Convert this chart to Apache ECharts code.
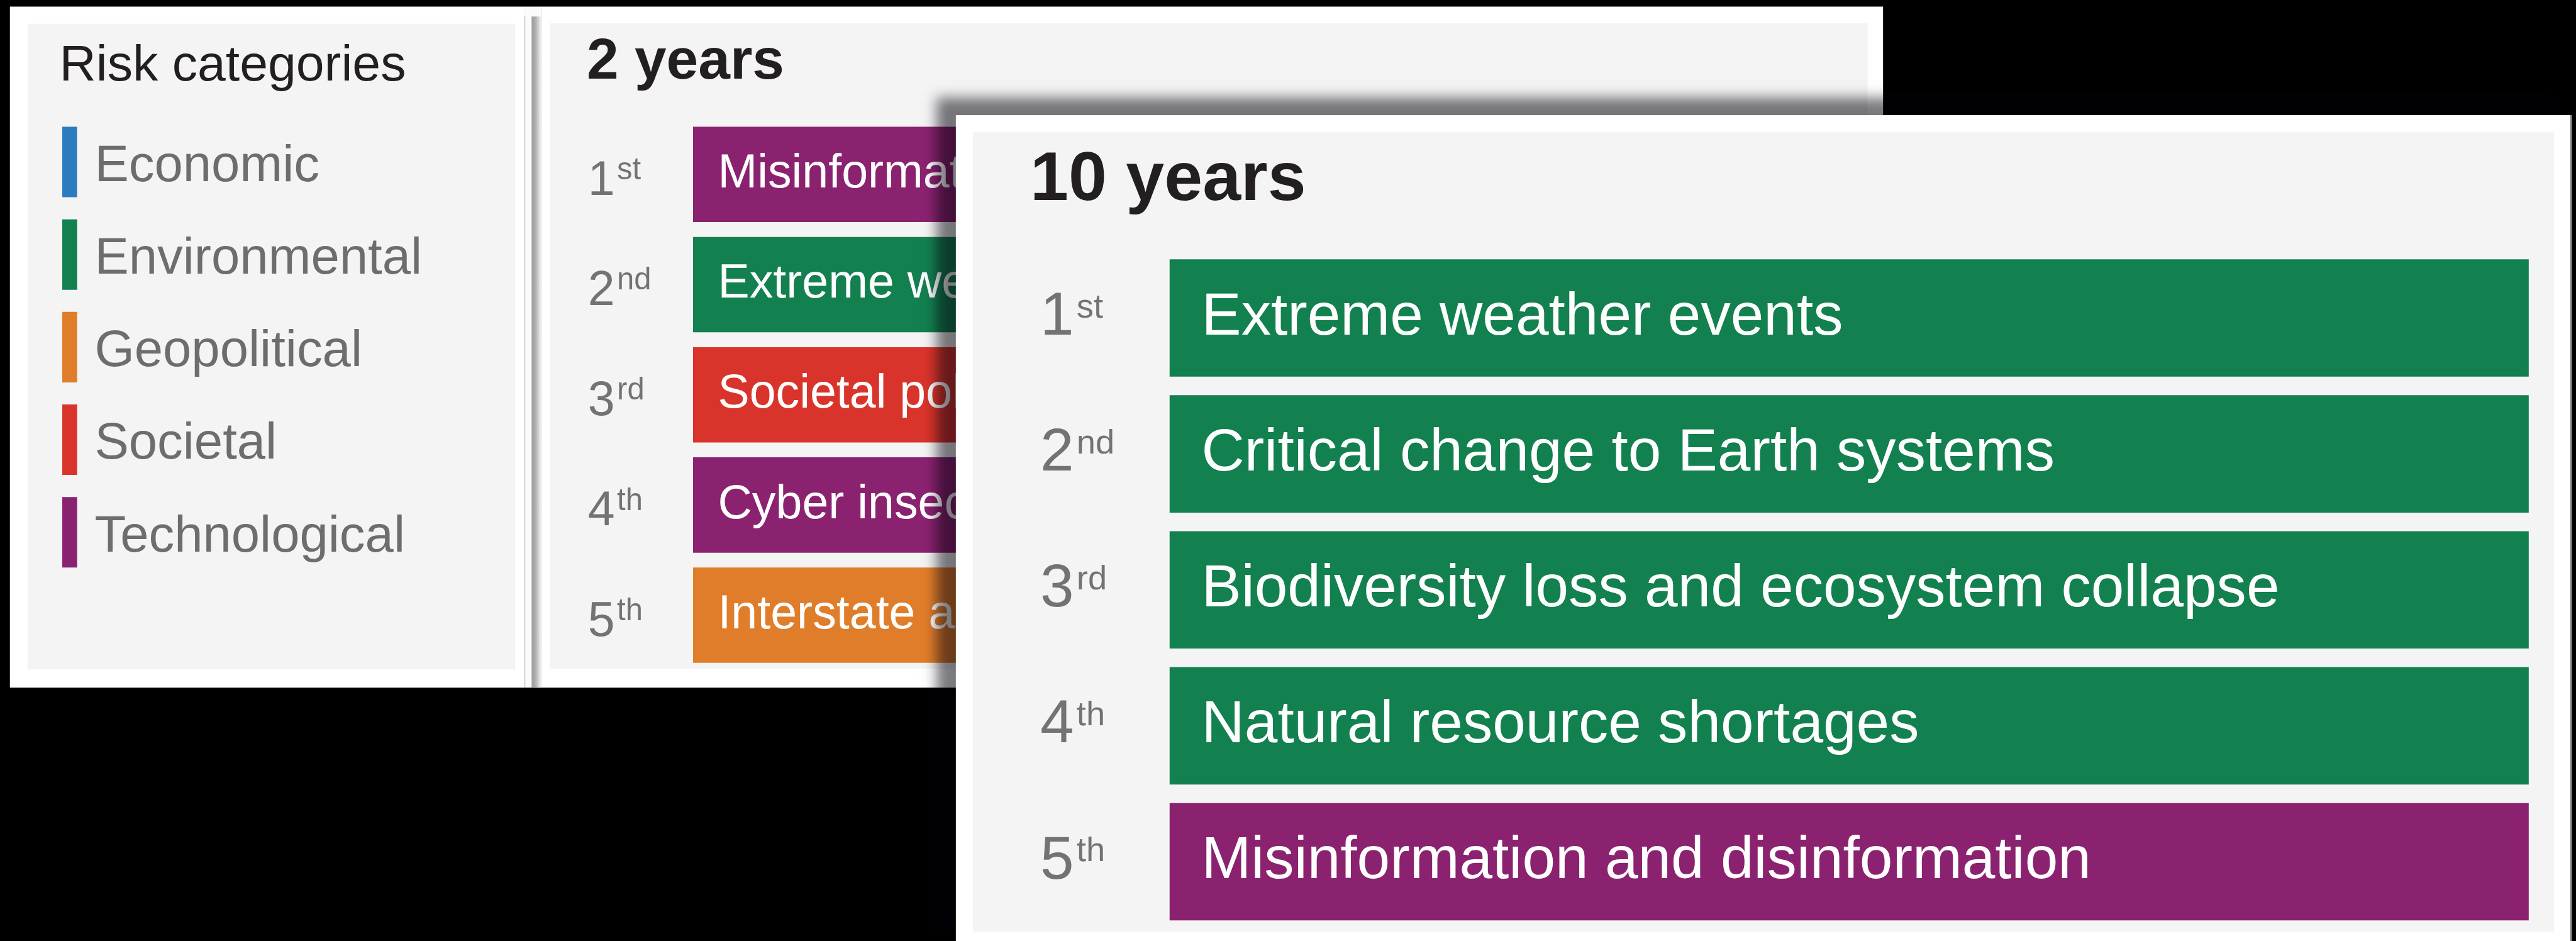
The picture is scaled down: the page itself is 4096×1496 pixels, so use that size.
<!DOCTYPE html>
<html>
<head>
<meta charset="utf-8">
<script src="https://cdn.jsdelivr.net/npm/echarts@6/dist/echarts.min.js"></script>
<style>
html,body{margin:0;padding:0;background:#000;}
#chart{width:4096px;height:1496px;}
</style>
</head>
<body>
<div id="chart"></div>
<script>
// ---- data ----
var categories = ['Economic', 'Environmental', 'Geopolitical', 'Societal', 'Technological'];
var categoryColors = ['#2c7bbf', '#12804f', '#e07d2a', '#d9342b', '#8b2270'];
var ranks = ['1st', '2nd', '3rd', '4th', '5th'];
var horizons = ['2 years', '10 years'];
var risks2y = ['Misinformation and disinformation', 'Extreme weather events', 'Societal polarization', 'Cyber insecurity', 'Interstate armed conflict'];
var cats2y = ['Technological', 'Environmental', 'Societal', 'Technological', 'Geopolitical'];
var risks10y = ['Extreme weather events', 'Critical change to Earth systems', 'Biodiversity loss and ecosystem collapse', 'Natural resource shortages', 'Misinformation and disinformation'];
var cats10y = ['Environmental', 'Environmental', 'Environmental', 'Environmental', 'Technological'];
var barLength = [1, 1, 1, 1, 1]; // every ranked risk drawn as a full-length band

// ---- layout (reference px, scaled) ----
var S = 0.876;
function p(v) { return v * S; }
var FONT = "'Liberation Sans', Arial, Helvetica, sans-serif";

var chart = echarts.init(document.getElementById('chart'), null, {renderer: 'canvas'});

function rankFormatter(v) {
  var m = /^(\d+)(\D+)$/.exec(v);
  return '{n|' + m[1] + '}{s|' + m[2] + '}';
}

var panels = [
  {risks: risks2y, cats: cats2y, barW: p(173), z: 2, fs: p(86), dist: p(45),
   rich: {n: {fontSize: p(88), color: '#757272', fontFamily: FONT, padding: [p(26), 0, 0, 0], verticalAlign: 'middle'},
          s: {fontSize: p(56), color: '#757272', fontFamily: FONT, padding: [0, 0, p(13), p(4)], verticalAlign: 'middle'}},
   margin: p(191)},
  {risks: risks10y, cats: cats10y, barW: p(213), z: 10, fs: p(108), dist: p(58),
   rich: {n: {fontSize: p(110), color: '#757272', fontFamily: FONT, verticalAlign: 'middle'},
          s: {fontSize: p(62), color: '#757272', fontFamily: FONT, padding: [0, 0, p(36), p(5)], verticalAlign: 'middle'}},
   margin: p(235)}
];

var series = [];
panels.forEach(function (pn, h) {
  categories.forEach(function (c, ci) {
    series.push({
      type: 'bar',
      name: c,
      xAxisIndex: h,
      yAxisIndex: h,
      z: pn.z,
      barWidth: pn.barW,
      barGap: '-100%',
      itemStyle: {color: categoryColors[ci]},
      emphasis: {disabled: true},
      label: {
        show: true,
        position: 'insideLeft',
        distance: pn.dist,
        color: '#ffffff',
        fontSize: pn.fs,
        fontFamily: FONT,
        formatter: function (prm) { return prm.data.risk; }
      },
      data: pn.cats.map(function (cc, i) {
        return cc === c ? {value: barLength[i], risk: pn.risks[i]} : '-';
      })
    });
  });
});

var option = {
  backgroundColor: '#000000',
  animation: false,
  legend: {
    orient: 'vertical',
    left: p(113),
    top: p(230),
    padding: 0,
    itemWidth: p(27),
    itemHeight: p(128),
    itemGap: p(40),
    icon: 'rect',
    selectedMode: false,
    data: categories,
    formatter: '{t|{name}}',
    textStyle: {
      fontSize: p(93), color: '#6f6c6c', fontFamily: FONT,
      rich: {t: {fontSize: p(93), color: '#6f6c6c', fontFamily: FONT, padding: [p(18), 0, 0, p(26)]}}
    }
  },
  grid: [
    {left: p(1258), top: p(216.5), width: p(3360 - 1258), height: p(1000)},
    {left: p(2123), top: p(453.6), width: p(4590 - 2123), height: p(1233.75)}
  ],
  xAxis: [
    {type: 'value', gridIndex: 0, min: 0, max: 1, show: false},
    {type: 'value', gridIndex: 1, min: 0, max: 1, show: false}
  ],
  yAxis: panels.map(function (pn, h) {
    return {
      type: 'category', gridIndex: h, inverse: true, data: ranks, z: pn.z,
      axisLine: {show: false}, axisTick: {show: false}, splitLine: {show: false},
      axisLabel: {align: 'left', margin: pn.margin, formatter: rankFormatter, rich: pn.rich}
    };
  }),
  graphic: {
    elements: [
      // left legend panel
      {type: 'rect', z: 0, shape: {x: p(18), y: p(12), width: p(952 - 18), height: p(1248 - 12)}, style: {fill: '#ffffff'}},
      {type: 'rect', z: 0, shape: {x: p(50), y: p(43), width: p(935 - 50), height: p(1215 - 43)}, style: {fill: '#f4f4f4'}},
      {type: 'text', z: 1, style: {x: p(108), y: p(121), text: 'Risk categories', fontSize: p(92), fontFamily: FONT, fill: '#231f20', verticalAlign: 'middle'}},
      // separator between panels
      {type: 'rect', z: 0, shape: {x: p(952), y: p(12), width: p(983 - 952), height: p(1248 - 12)}, style: {fill: '#fbfbfb'}},
      {type: 'rect', z: 0, shape: {x: p(952), y: p(30), width: p(1.5), height: p(1248 - 30)}, style: {fill: '#c4c4c4'}},
      {type: 'rect', z: 0, shape: {x: p(965), y: p(30), width: p(17), height: p(1248 - 30)},
        style: {fill: new echarts.graphic.LinearGradient(0, 0, 1, 0, [{offset: 0, color: '#9b9a9d'}, {offset: 0.45, color: '#b3b2b4'}, {offset: 1, color: '#f2f2f2'}])}},
      // 2-year panel
      {type: 'rect', z: 0, shape: {x: p(983), y: p(12), width: p(3418 - 983), height: p(1248 - 12)}, style: {fill: '#ffffff'}},
      {type: 'rect', z: 0, shape: {x: p(998), y: p(42), width: p(3390 - 998), height: p(1214 - 42)}, style: {fill: '#f4f4f4'}},
      {type: 'text', z: 1, style: {x: p(1065), y: p(114), text: horizons[0], fontSize: p(104), fontWeight: 'bold', fontFamily: FONT, fill: '#231f20', verticalAlign: 'middle'}},
      // 10-year panel with shadow
      {type: 'rect', z: 5, shape: {x: p(1735), y: p(209), width: p(4666 - 1735), height: p(1720 - 209)},
        style: {fill: '#ffffff', shadowBlur: p(22), shadowOffsetX: -p(35), shadowOffsetY: -p(32), shadowColor: 'rgba(2,0,10,0.52)'}},
      {type: 'rect', z: 5, shape: {x: p(1766), y: p(240), width: p(4636 - 1766), height: p(1691 - 240)}, style: {fill: '#f4f4f4'}},
      {type: 'rect', z: 5, shape: {x: p(4666), y: p(209), width: p(2.5), height: p(1720 - 209)}, style: {fill: '#8a8a8a'}},
      {type: 'text', z: 6, style: {x: p(1870), y: p(329), text: horizons[1], fontSize: p(125), fontWeight: 'bold', fontFamily: FONT, fill: '#231f20', verticalAlign: 'middle'}}
    ]
  },
  series: series
};
chart.setOption(option);
</script>
</body>
</html>
